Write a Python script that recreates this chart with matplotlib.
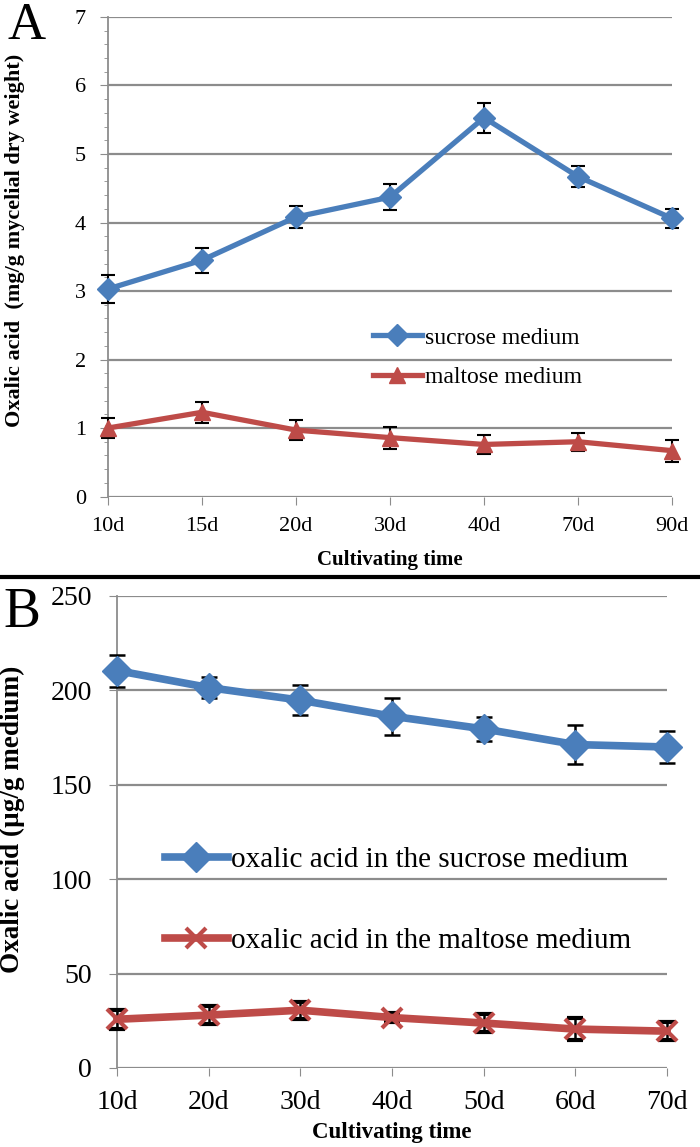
import matplotlib
matplotlib.use("Agg")
import matplotlib.pyplot as plt
import numpy as np
from matplotlib.lines import Line2D

plt.rcParams['font.family'] = ['Liberation Serif', 'DejaVu Serif']

# panel A: oxalic acid in mycelium
days_a = ['10d', '15d', '20d', '30d', '40d', '70d', '90d']
sucrose_a = [3.03, 3.45, 4.08, 4.37, 5.53, 4.67, 4.06]
sucrose_a_err = [0.2, 0.18, 0.16, 0.19, 0.22, 0.15, 0.14]
maltose_a = [1.0, 1.23, 0.97, 0.86, 0.76, 0.8, 0.67]
maltose_a_err = [0.14, 0.15, 0.14, 0.16, 0.14, 0.13, 0.16]

# panel B: oxalic acid in medium
days_b = ['10d', '20d', '30d', '40d', '50d', '60d', '70d']
sucrose_b = [210.5, 201.5, 194.8, 186.3, 179.6, 171.3, 170.0]
sucrose_b_err = [8.5, 5.8, 8.0, 9.8, 6.4, 10.5, 8.4]
maltose_b = [25.8, 28.0, 30.6, 26.7, 23.8, 20.6, 19.5]
maltose_b_err = [4.9, 4.6, 4.5, 2.5, 5.0, 6.0, 4.8]

blue = '#4a7ebb'
red = '#be4b48'
grid = '#8c8c8c'

fig = plt.figure(figsize=(7, 11.47), dpi=100)


def style_axes(ax, ymax, step, minor, tick_size, ypad, xpad):
    ax.set_ylim(0, ymax)
    ax.set_xlim(0, 6)
    ax.set_yticks(np.arange(0, ymax + step / 2, step))
    if minor:
        ax.set_yticks(np.arange(0, ymax + 0.01, minor), minor=True)
    ax.yaxis.grid(True, color=grid, lw=1.6)
    ax.set_axisbelow(True)
    for s in ['top', 'right', 'bottom']:
        ax.spines[s].set_visible(False)
    ax.spines['left'].set_color(grid)
    ax.spines['left'].set_linewidth(1.3)
    ax.tick_params(axis='y', which='major', length=6, color=grid, labelsize=tick_size, pad=ypad)
    ax.tick_params(axis='y', which='minor', length=3, color=grid)
    ax.tick_params(axis='x', length=6, color=grid, labelsize=tick_size, pad=xpad)


# ---- panel A ----
ax1 = fig.add_axes([0.1543, 0.5671, 0.8057, 0.4181])
x = np.arange(len(days_a))
ax1.errorbar(x, sucrose_a, yerr=sucrose_a_err, color=blue, lw=3.8, marker='D', ms=11,
             ecolor='black', elinewidth=1.5, capsize=5, capthick=1.5, clip_on=False, zorder=3)
ax1.errorbar(x, maltose_a, yerr=maltose_a_err, color=red, lw=3.8, marker='^', ms=12,
             ecolor='black', elinewidth=1.5, capsize=5, capthick=1.5, clip_on=False, zorder=3)
style_axes(ax1, 7, 1, 0.2, 16, 10, 9)
ax1.set_xticks(x)
ax1.set_xticklabels(days_a)
ax1.set_xlabel('Cultivating time', fontsize=15, fontweight='bold', labelpad=10)
ax1.set_ylabel('Oxalic acid  (mg/g mycelial dry weight)', fontsize=16, fontweight='bold')
ax1.yaxis.set_label_coords(-0.148, 0.535)
h1 = [Line2D([], [], color=blue, lw=3.8, marker='D', ms=11),
      Line2D([], [], color=red, lw=3.8, marker='^', ms=12)]
ax1.legend(h1, ['sucrose medium', 'maltose medium'], loc='upper left',
           bbox_to_anchor=(0.449, 0.378), frameon=False, fontsize=17,
           handlelength=2.07, handletextpad=0.13, labelspacing=0.75, borderpad=0)
fig.text(0.01, 0.998, 'A', fontsize=38, va='top', ha='left')

# separator line
fig.add_artist(Line2D([0, 1], [0.497, 0.497], color='black', lw=3, transform=fig.transFigure))

# ---- panel B ----
ax2 = fig.add_axes([0.1671, 0.0689, 0.7859, 0.4115])
x = np.arange(len(days_b))
ax2.errorbar(x, sucrose_b, yerr=sucrose_b_err, color=blue, lw=5.5, marker='D', ms=15,
             ecolor='black', elinewidth=1.8, capsize=6, capthick=1.8, clip_on=False, zorder=3)
ax2.errorbar(x, maltose_b, yerr=maltose_b_err, color=red, lw=5.5, marker='x', ms=15, mew=3,
             ecolor='black', elinewidth=1.8, capsize=6, capthick=1.8, clip_on=False, zorder=3)
style_axes(ax2, 250, 50, None, 20, 12, 10)
ax2.set_xticks(x)
ax2.set_xticklabels(days_b)
ax2.set_xlabel('Cultivating time', fontsize=16.5, fontweight='bold', labelpad=5)
ax2.set_ylabel('Oxalic acid (µg/g medium)', fontsize=19.5, fontweight='bold')
ax2.yaxis.set_label_coords(-0.167, 0.526)
h2 = [Line2D([], [], color=blue, lw=5.5, marker='D', ms=15),
      Line2D([], [], color=red, lw=5.5, marker='x', ms=15, mew=3)]
ax2.legend(h2, ['oxalic acid in the sucrose medium', 'oxalic acid in the maltose medium'],
           loc='upper left', bbox_to_anchor=(0.06, 0.499), frameon=False, fontsize=21,
           handlelength=2.17, handletextpad=0.1, labelspacing=1.85, borderpad=0)
fig.text(0.005, 0.488, 'B', fontsize=40, va='top', ha='left')

fig.savefig('out.png', dpi=100)
